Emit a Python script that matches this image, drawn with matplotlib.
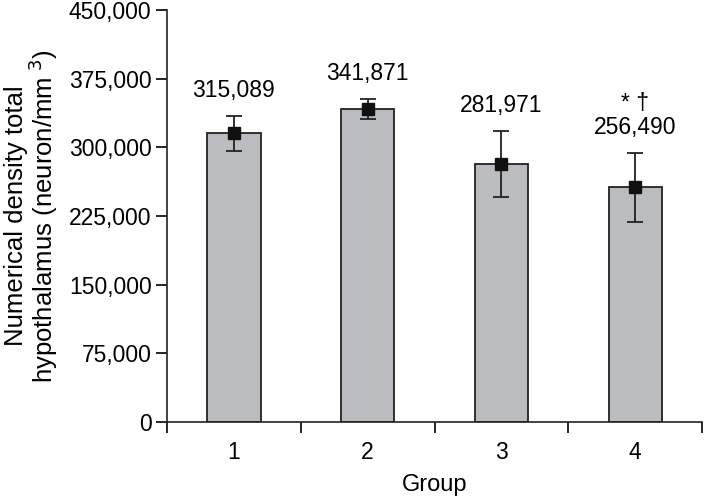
import matplotlib
matplotlib.use('Agg')
import matplotlib.pyplot as plt
import numpy as np

plt.rcParams['font.family'] = ['Liberation Sans', 'DejaVu Sans']

groups = ['1', '2', '3', '4']
means = [315089, 341871, 281971, 256490]
errs = [19500, 10500, 36000, 37700]
labels = ['315,089', '341,871', '281,971', '* \u2020\n256,490']

fig = plt.figure(figsize=(7.1, 5.01), dpi=100)
ax = fig.add_axes([0.235, 0.158, 0.754, 0.822])

x = np.arange(1, len(groups) + 1)
ax.bar(x, means, width=0.4, color='#bbbcc0', edgecolor='#222222', linewidth=1.3, zorder=2)
ax.errorbar(x, means, yerr=errs, fmt='s', color='#111111', markersize=8,
            ecolor='#222222', elinewidth=1.3, capsize=6, capthick=1.3, zorder=3)

for xi, m, e, lab in zip(x, means, errs, labels):
    ax.annotate(lab, (xi, m + e), xytext=(0, 10), textcoords='offset points',
                ha='center', va='bottom', fontsize=16.5, linespacing=1.05)

ax.set_xlim(0.5, 4.5)
ax.set_ylim(0, 450000)
ax.set_yticks(np.arange(0, 450001, 75000))
ax.set_yticklabels(['0', '75,000', '150,000', '225,000', '300,000', '375,000', '450,000'])
ax.set_xticks([0.5, 1.5, 2.5, 3.5, 4.5])
ax.set_xticklabels([])
ax.set_xticks(x, minor=True)
ax.set_xticklabels(groups, minor=True)
ax.tick_params(axis='x', which='minor', length=0, pad=14, labelsize=16.5)
ax.tick_params(axis='x', which='major', length=8, width=1.2, direction='out')
ax.tick_params(axis='y', length=8, width=1.2, direction='out', labelsize=16.5, pad=3)

for s in ['top', 'right']:
    ax.spines[s].set_visible(False)
for s in ['left', 'bottom']:
    ax.spines[s].set_linewidth(1.2)
    ax.spines[s].set_color('#222222')

ax.set_xlabel('Group', fontsize=17, labelpad=7)
ax.set_ylabel('Numerical density total\nhypothalamus (neuron/mm$^{\\ 3}$)', fontsize=18.5,
              linespacing=0.95, labelpad=6)

fig.savefig('out.png', dpi=100)
